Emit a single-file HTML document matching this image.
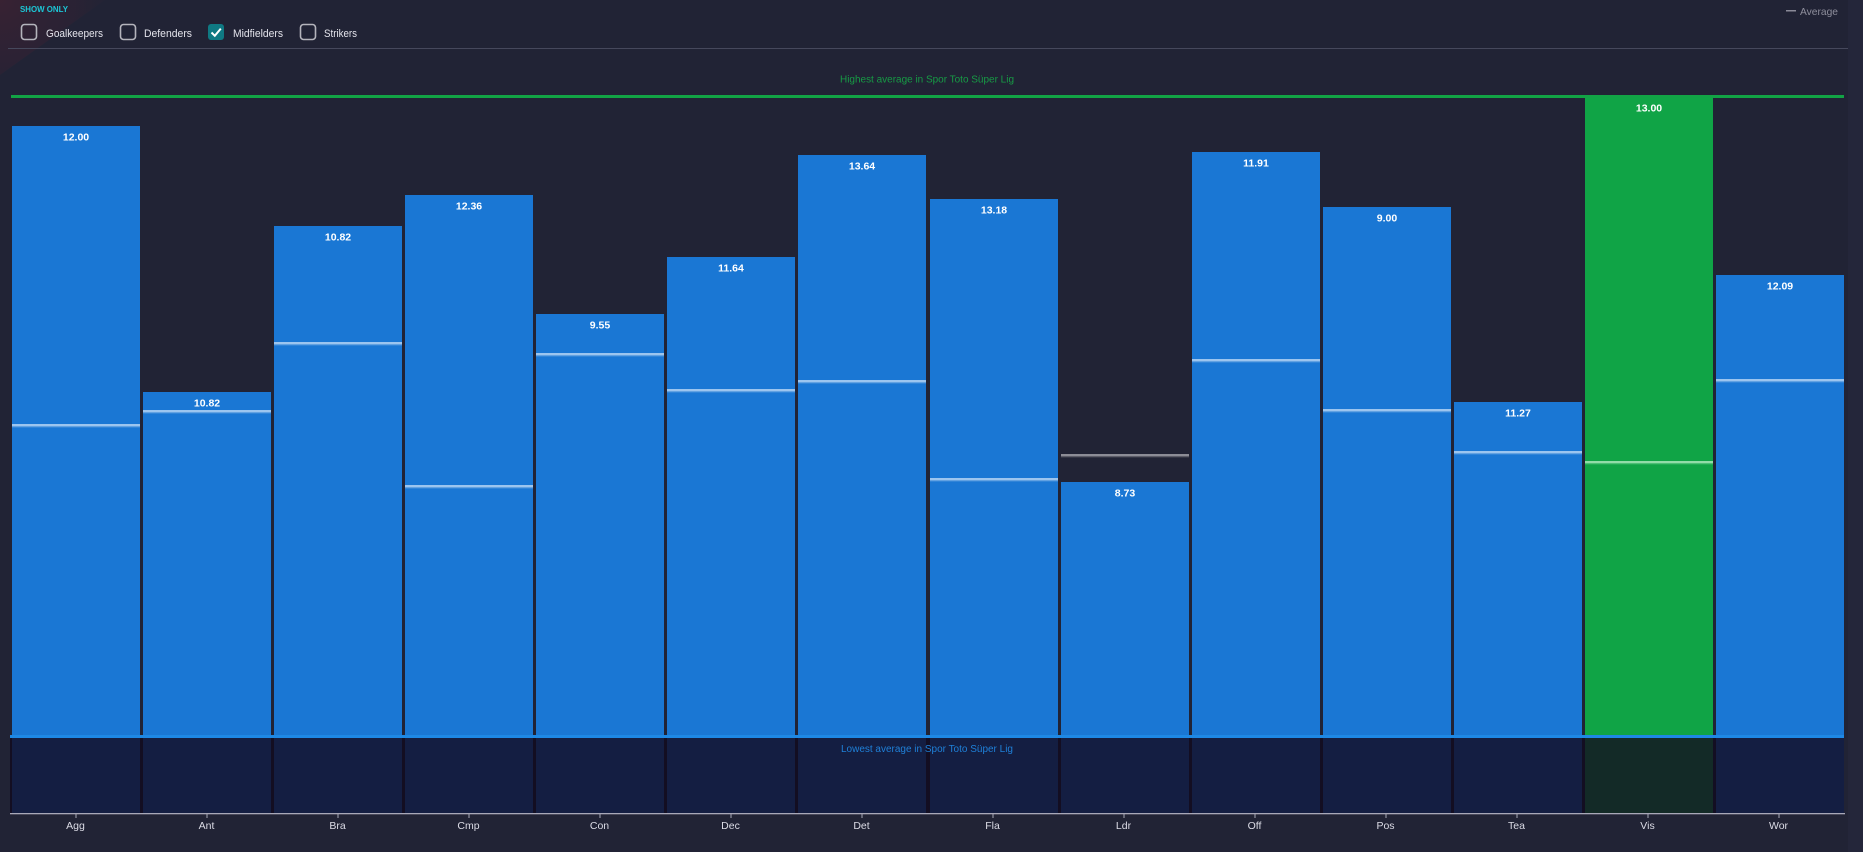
<!DOCTYPE html>
<html>
<head>
<meta charset="utf-8">
<style>
html,body{margin:0;padding:0;background:#212335;}
svg{display:block;}
text{font-family:"Liberation Sans",sans-serif;}
</style>
</head>
<body>
<svg width="1863" height="852" viewBox="0 0 1863 852" xmlns="http://www.w3.org/2000/svg">
<defs>
<radialGradient id="rg" cx="0" cy="0" r="130" gradientUnits="userSpaceOnUse">
<stop offset="0" stop-color="#3e2232" stop-opacity="0.8"/>
<stop offset="0.6" stop-color="#332233" stop-opacity="0.45"/>
<stop offset="1" stop-color="#212335" stop-opacity="0"/>
</radialGradient>
</defs>
<rect x="0" y="0" width="1863" height="852" fill="#212335"/>
<rect x="1848" y="0" width="15" height="852" fill="#24263a"/>
<polygon points="0,0 105,0 0,75" fill="url(#rg)"/>

<!-- header -->
<text x="20" y="12" font-size="8" font-weight="bold" fill="#1cc6d6" textLength="48" lengthAdjust="spacingAndGlyphs">SHOW ONLY</text>
<rect x="21.5" y="24.5" width="15" height="15" rx="3" fill="none" stroke="#b4b4bc" stroke-width="1.6"/>
<text x="46" y="37" font-size="11" fill="#e4e4ec" textLength="57" lengthAdjust="spacingAndGlyphs">Goalkeepers</text>
<rect x="120.5" y="24.5" width="15" height="15" rx="3" fill="none" stroke="#b4b4bc" stroke-width="1.6"/>
<text x="144" y="37" font-size="11" fill="#e4e4ec" textLength="48" lengthAdjust="spacingAndGlyphs">Defenders</text>
<rect x="208" y="24" width="16" height="16" rx="3" fill="#0f7983"/>
<path d="M211.5 32.5 L214.8 35.8 L220.8 28.6" fill="none" stroke="#ffffff" stroke-width="2"/>
<text x="233" y="37" font-size="11" fill="#e4e4ec" textLength="50" lengthAdjust="spacingAndGlyphs">Midfielders</text>
<rect x="300.5" y="24.5" width="15" height="15" rx="3" fill="none" stroke="#b4b4bc" stroke-width="1.6"/>
<text x="324" y="37" font-size="11" fill="#e4e4ec" textLength="33" lengthAdjust="spacingAndGlyphs">Strikers</text>
<rect x="8" y="48" width="1840" height="1" fill="#46485c"/>

<!-- legend -->
<rect x="1786" y="10" width="10" height="1.5" fill="#8a8a98"/>
<text x="1800" y="15" font-size="10.5" fill="#8e8e9c" textLength="38" lengthAdjust="spacingAndGlyphs">Average</text>

<!-- highest line -->
<text x="840" y="82.5" font-size="10" fill="#179b45" textLength="174" lengthAdjust="spacingAndGlyphs">Highest average in Spor Toto Süper Lig</text>
<rect x="11" y="95" width="1833" height="3" fill="#12a345"/>

<!-- lower band -->
<rect x="10" y="738" width="1834" height="75" fill="#130e22"/>

<g id="bars">
<rect x="12" y="126" width="128" height="609" fill="#1a77d4"/>
<rect x="12" y="738" width="128" height="75" fill="#141e42"/>
<rect x="12" y="424" width="128" height="2" fill="#9cc5ef"/><rect x="12" y="426" width="128" height="1.3" fill="#62a2e2"/>
<text x="76" y="140.5" font-size="10.5" font-weight="bold" fill="#ffffff" text-anchor="middle">12.00</text>

<rect x="143" y="392" width="128" height="343" fill="#1a77d4"/>
<rect x="143" y="738" width="128" height="75" fill="#141e42"/>
<rect x="143" y="410" width="128" height="2" fill="#9cc5ef"/><rect x="143" y="412" width="128" height="1.3" fill="#62a2e2"/>
<text x="207" y="406.5" font-size="10.5" font-weight="bold" fill="#ffffff" text-anchor="middle">10.82</text>

<rect x="274" y="226" width="128" height="509" fill="#1a77d4"/>
<rect x="274" y="738" width="128" height="75" fill="#141e42"/>
<rect x="274" y="342" width="128" height="2" fill="#9cc5ef"/><rect x="274" y="344" width="128" height="1.3" fill="#62a2e2"/>
<text x="338" y="240.5" font-size="10.5" font-weight="bold" fill="#ffffff" text-anchor="middle">10.82</text>

<rect x="405" y="195" width="128" height="540" fill="#1a77d4"/>
<rect x="405" y="738" width="128" height="75" fill="#141e42"/>
<rect x="405" y="485" width="128" height="2" fill="#9cc5ef"/><rect x="405" y="487" width="128" height="1.3" fill="#62a2e2"/>
<text x="469" y="209.5" font-size="10.5" font-weight="bold" fill="#ffffff" text-anchor="middle">12.36</text>

<rect x="536" y="314" width="128" height="421" fill="#1a77d4"/>
<rect x="536" y="738" width="128" height="75" fill="#141e42"/>
<rect x="536" y="353" width="128" height="2" fill="#9cc5ef"/><rect x="536" y="355" width="128" height="1.3" fill="#62a2e2"/>
<text x="600" y="328.5" font-size="10.5" font-weight="bold" fill="#ffffff" text-anchor="middle">9.55</text>

<rect x="667" y="257" width="128" height="478" fill="#1a77d4"/>
<rect x="667" y="738" width="128" height="75" fill="#141e42"/>
<rect x="667" y="389" width="128" height="2" fill="#9cc5ef"/><rect x="667" y="391" width="128" height="1.3" fill="#62a2e2"/>
<text x="731" y="271.5" font-size="10.5" font-weight="bold" fill="#ffffff" text-anchor="middle">11.64</text>

<rect x="798" y="155" width="128" height="580" fill="#1a77d4"/>
<rect x="798" y="738" width="128" height="75" fill="#141e42"/>
<rect x="798" y="380" width="128" height="2" fill="#9cc5ef"/><rect x="798" y="382" width="128" height="1.3" fill="#62a2e2"/>
<text x="862" y="169.5" font-size="10.5" font-weight="bold" fill="#ffffff" text-anchor="middle">13.64</text>

<rect x="930" y="199" width="128" height="536" fill="#1a77d4"/>
<rect x="930" y="738" width="128" height="75" fill="#141e42"/>
<rect x="930" y="478" width="128" height="2" fill="#9cc5ef"/><rect x="930" y="480" width="128" height="1.3" fill="#62a2e2"/>
<text x="994" y="213.5" font-size="10.5" font-weight="bold" fill="#ffffff" text-anchor="middle">13.18</text>

<rect x="1061" y="482" width="128" height="253" fill="#1a77d4"/>
<rect x="1061" y="738" width="128" height="75" fill="#141e42"/>
<rect x="1061" y="454" width="128" height="2" fill="#8c8c96"/><rect x="1061" y="456" width="128" height="1.3" fill="#5c5c68"/>
<text x="1125" y="496.5" font-size="10.5" font-weight="bold" fill="#ffffff" text-anchor="middle">8.73</text>

<rect x="1192" y="152" width="128" height="583" fill="#1a77d4"/>
<rect x="1192" y="738" width="128" height="75" fill="#141e42"/>
<rect x="1192" y="359" width="128" height="2" fill="#9cc5ef"/><rect x="1192" y="361" width="128" height="1.3" fill="#62a2e2"/>
<text x="1256" y="166.5" font-size="10.5" font-weight="bold" fill="#ffffff" text-anchor="middle">11.91</text>

<rect x="1323" y="207" width="128" height="528" fill="#1a77d4"/>
<rect x="1323" y="738" width="128" height="75" fill="#141e42"/>
<rect x="1323" y="409" width="128" height="2" fill="#9cc5ef"/><rect x="1323" y="411" width="128" height="1.3" fill="#62a2e2"/>
<text x="1387" y="221.5" font-size="10.5" font-weight="bold" fill="#ffffff" text-anchor="middle">9.00</text>

<rect x="1454" y="402" width="128" height="333" fill="#1a77d4"/>
<rect x="1454" y="738" width="128" height="75" fill="#141e42"/>
<rect x="1454" y="451" width="128" height="2" fill="#9cc5ef"/><rect x="1454" y="453" width="128" height="1.3" fill="#62a2e2"/>
<text x="1518" y="416.5" font-size="10.5" font-weight="bold" fill="#ffffff" text-anchor="middle">11.27</text>

<rect x="1585" y="97" width="128" height="638" fill="#10a446"/>
<rect x="1585" y="738" width="128" height="75" fill="#132a27"/>
<rect x="1585" y="461" width="128" height="2" fill="#92dca8"/><rect x="1585" y="463" width="128" height="1.3" fill="#4cc075"/>
<text x="1649" y="111.5" font-size="10.5" font-weight="bold" fill="#ffffff" text-anchor="middle">13.00</text>

<rect x="1716" y="275" width="128" height="460" fill="#1a77d4"/>
<rect x="1716" y="738" width="128" height="75" fill="#141e42"/>
<rect x="1716" y="379" width="128" height="2" fill="#9cc5ef"/><rect x="1716" y="381" width="128" height="1.3" fill="#62a2e2"/>
<text x="1780" y="289.5" font-size="10.5" font-weight="bold" fill="#ffffff" text-anchor="middle">12.09</text>
</g>

<!-- lowest line -->
<rect x="10" y="735" width="1834" height="3" fill="#1e88e5"/>
<text x="841" y="752" font-size="10" fill="#1f80d8" textLength="172" lengthAdjust="spacingAndGlyphs">Lowest average in Spor Toto Süper Lig</text>

<!-- axis -->
<rect x="10" y="813" width="1835" height="1.3" fill="#a8a8b8"/>
<g fill="#a8a8b8">
<rect x="75.5" y="814" width="1" height="4"/>
<rect x="206.5" y="814" width="1" height="4"/>
<rect x="337.5" y="814" width="1" height="4"/>
<rect x="468.5" y="814" width="1" height="4"/>
<rect x="599.5" y="814" width="1" height="4"/>
<rect x="730.5" y="814" width="1" height="4"/>
<rect x="861.5" y="814" width="1" height="4"/>
<rect x="992.5" y="814" width="1" height="4"/>
<rect x="1123.5" y="814" width="1" height="4"/>
<rect x="1254.5" y="814" width="1" height="4"/>
<rect x="1385.5" y="814" width="1" height="4"/>
<rect x="1516.5" y="814" width="1" height="4"/>
<rect x="1647.5" y="814" width="1" height="4"/>
<rect x="1778.5" y="814" width="1" height="4"/>
</g>
<g font-size="10.5" fill="#dcdce6" text-anchor="middle">
<text x="75.5" y="829">Agg</text>
<text x="206.5" y="829">Ant</text>
<text x="337.5" y="829">Bra</text>
<text x="468.5" y="829">Cmp</text>
<text x="599.5" y="829">Con</text>
<text x="730.5" y="829">Dec</text>
<text x="861.5" y="829">Det</text>
<text x="992.5" y="829">Fla</text>
<text x="1123.5" y="829">Ldr</text>
<text x="1254.5" y="829">Off</text>
<text x="1385.5" y="829">Pos</text>
<text x="1516.5" y="829">Tea</text>
<text x="1647.5" y="829">Vis</text>
<text x="1778.5" y="829">Wor</text>
</g>
</svg>
</body>
</html>
